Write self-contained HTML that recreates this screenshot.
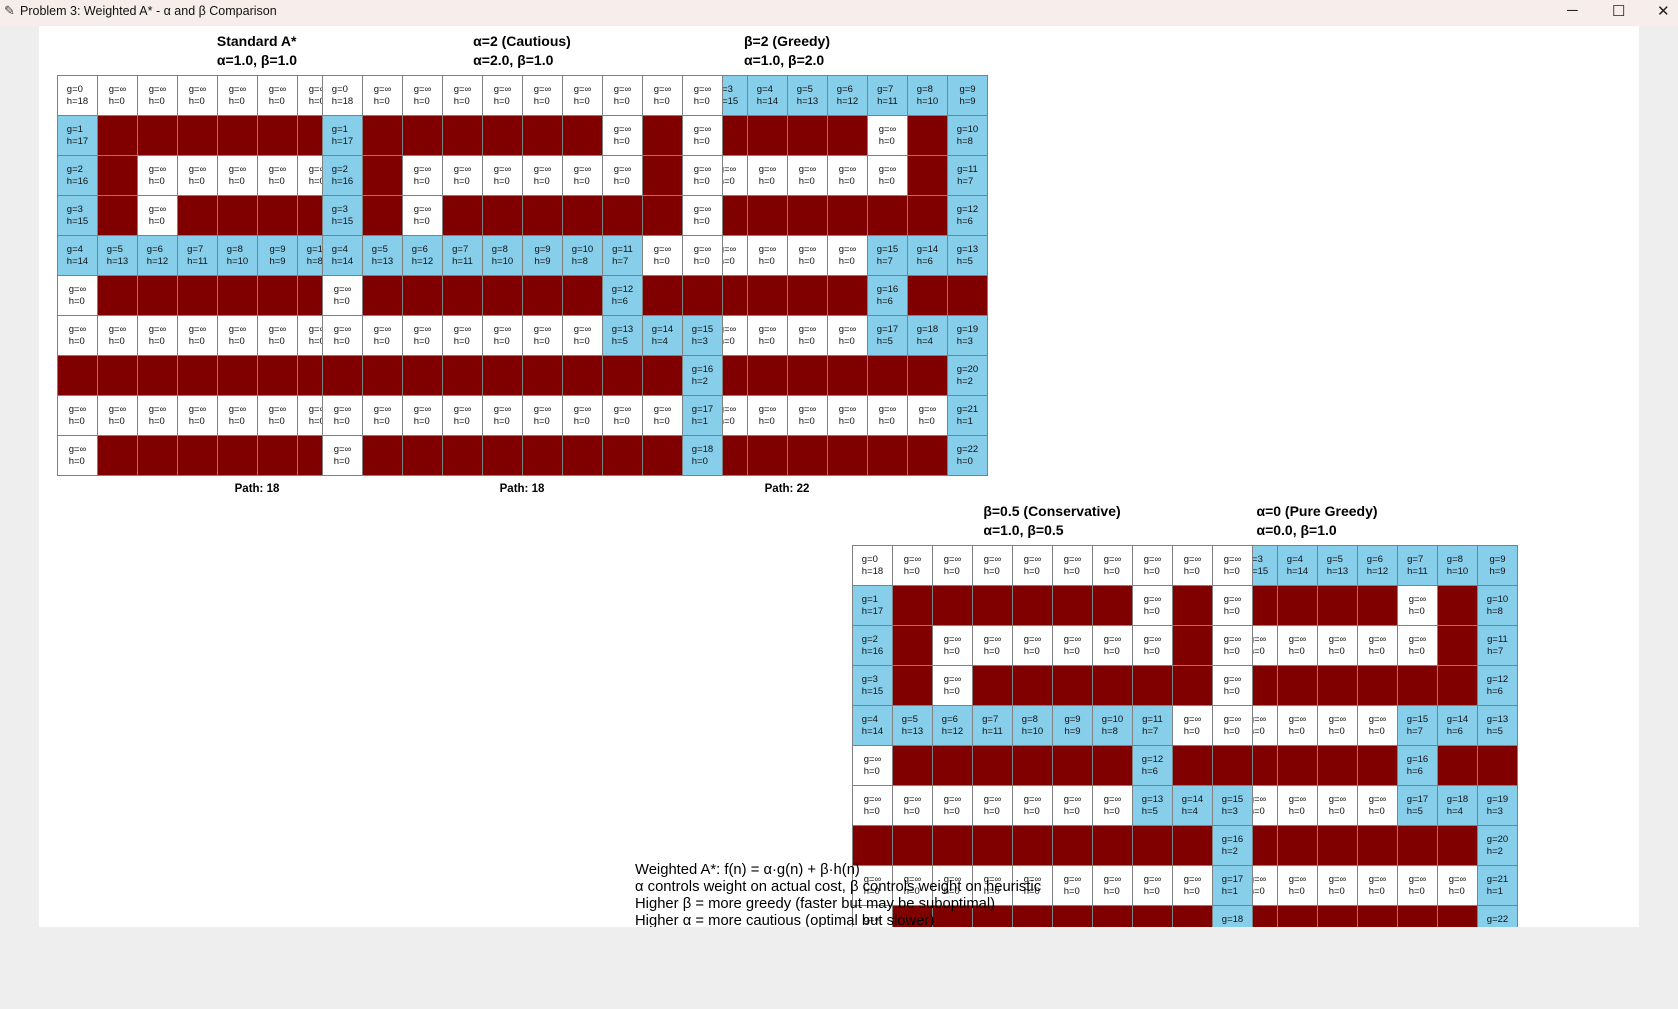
<!DOCTYPE html>
<html><head><meta charset="utf-8"><style>
body{margin:0;width:1678px;height:1009px;background:#eeeeee;position:relative;overflow:hidden;font-family:"Liberation Sans",sans-serif}
#tb{position:absolute;left:0;top:0;width:1678px;height:26px;background:#f7eeec;font-size:12.5px;color:#111}
#tb .t{position:absolute;left:20px;top:4px}
#tb .ic{position:absolute;left:4px;top:3px;font-size:13px;color:#444}
#tb .c{position:absolute;top:2px;font-size:15px;color:#222}
#cv{position:absolute;left:39px;top:26px;width:1600px;height:901px;background:#fff;overflow:hidden}
.g{position:absolute;display:grid;grid-template-columns:repeat(10,39px);grid-auto-rows:39px;gap:1px;padding:1px;background:#808080}
.g div{background:#fff;display:flex;align-items:center;justify-content:center;text-align:left;font-size:9.5px;line-height:11.5px;color:#111;overflow:hidden;white-space:nowrap}
.g div.w{background:#800000}
.g div.p{background:#87ceeb}
.ti{position:absolute;transform:translateX(-50%);font-weight:bold;font-size:14px;line-height:18.5px;text-align:left;white-space:nowrap;color:#000}
.pl{position:absolute;transform:translateX(-50%);font-weight:bold;font-size:11.5px;white-space:nowrap}
#tx{position:absolute;left:596px;top:836px;font-size:14.8px;line-height:17.1px;white-space:nowrap;color:#000}
</style></head><body>
<div id="tb"><span class="ic">✎</span><span class="t">Problem 3: Weighted A* - α and β Comparison</span><span class="c" style="left:1567px">─</span><span class="c" style="left:1612px">☐</span><span class="c" style="left:1657px">✕</span></div>
<div id="cv">
<div class="ti" style="left:218px;top:6px">Standard A*<br>α=1.0, β=1.0</div>
<div class="ti" style="left:483px;top:6px">α=2 (Cautious)<br>α=2.0, β=1.0</div>
<div class="ti" style="left:748px;top:6px">β=2 (Greedy)<br>α=1.0, β=2.0</div>
<div class="pl" style="left:218px;top:457px">Path: 18</div>
<div class="pl" style="left:483px;top:457px">Path: 18</div>
<div class="pl" style="left:748px;top:457px">Path: 22</div>
<div class="ti" style="left:1013px;top:476px">β=0.5 (Conservative)<br>α=1.0, β=0.5</div>
<div class="ti" style="left:1278px;top:476px">α=0 (Pure Greedy)<br>α=0.0, β=1.0</div>

<!-- Grid 1: Standard A* -->
<div class="g" style="left:18px;top:49px">
<div>g=0<br>h=18</div><div>g=∞<br>h=0</div><div>g=∞<br>h=0</div><div>g=∞<br>h=0</div><div>g=∞<br>h=0</div><div>g=∞<br>h=0</div><div>g=∞<br>h=0</div><div>g=∞<br>h=0</div><div>g=∞<br>h=0</div><div>g=∞<br>h=0</div>
<div class="p">g=1<br>h=17</div><div class="w"></div><div class="w"></div><div class="w"></div><div class="w"></div><div class="w"></div><div class="w"></div><div>g=∞<br>h=0</div><div class="w"></div><div>g=∞<br>h=0</div>
<div class="p">g=2<br>h=16</div><div class="w"></div><div>g=∞<br>h=0</div><div>g=∞<br>h=0</div><div>g=∞<br>h=0</div><div>g=∞<br>h=0</div><div>g=∞<br>h=0</div><div>g=∞<br>h=0</div><div class="w"></div><div>g=∞<br>h=0</div>
<div class="p">g=3<br>h=15</div><div class="w"></div><div>g=∞<br>h=0</div><div class="w"></div><div class="w"></div><div class="w"></div><div class="w"></div><div class="w"></div><div class="w"></div><div>g=∞<br>h=0</div>
<div class="p">g=4<br>h=14</div><div class="p">g=5<br>h=13</div><div class="p">g=6<br>h=12</div><div class="p">g=7<br>h=11</div><div class="p">g=8<br>h=10</div><div class="p">g=9<br>h=9</div><div class="p">g=10<br>h=8</div><div class="p">g=11<br>h=7</div><div>g=∞<br>h=0</div><div>g=∞<br>h=0</div>
<div>g=∞<br>h=0</div><div class="w"></div><div class="w"></div><div class="w"></div><div class="w"></div><div class="w"></div><div class="w"></div><div class="p">g=12<br>h=6</div><div class="w"></div><div class="w"></div>
<div>g=∞<br>h=0</div><div>g=∞<br>h=0</div><div>g=∞<br>h=0</div><div>g=∞<br>h=0</div><div>g=∞<br>h=0</div><div>g=∞<br>h=0</div><div>g=∞<br>h=0</div><div class="p">g=13<br>h=5</div><div class="p">g=14<br>h=4</div><div class="p">g=15<br>h=3</div>
<div class="w"></div><div class="w"></div><div class="w"></div><div class="w"></div><div class="w"></div><div class="w"></div><div class="w"></div><div class="w"></div><div class="w"></div><div class="p">g=16<br>h=2</div>
<div>g=∞<br>h=0</div><div>g=∞<br>h=0</div><div>g=∞<br>h=0</div><div>g=∞<br>h=0</div><div>g=∞<br>h=0</div><div>g=∞<br>h=0</div><div>g=∞<br>h=0</div><div>g=∞<br>h=0</div><div>g=∞<br>h=0</div><div class="p">g=17<br>h=1</div>
<div>g=∞<br>h=0</div><div class="w"></div><div class="w"></div><div class="w"></div><div class="w"></div><div class="w"></div><div class="w"></div><div class="w"></div><div class="w"></div><div class="p">g=18<br>h=0</div>
</div>

<!-- Grid 3: beta=2 greedy -->
<div class="g" style="left:548px;top:49px">
<div>g=0<br>h=18</div><div class="p">g=1<br>h=17</div><div class="p">g=2<br>h=16</div><div class="p">g=3<br>h=15</div><div class="p">g=4<br>h=14</div><div class="p">g=5<br>h=13</div><div class="p">g=6<br>h=12</div><div class="p">g=7<br>h=11</div><div class="p">g=8<br>h=10</div><div class="p">g=9<br>h=9</div>
<div>g=∞<br>h=0</div><div class="w"></div><div class="w"></div><div class="w"></div><div class="w"></div><div class="w"></div><div class="w"></div><div>g=∞<br>h=0</div><div class="w"></div><div class="p">g=10<br>h=8</div>
<div>g=∞<br>h=0</div><div class="w"></div><div>g=∞<br>h=0</div><div>g=∞<br>h=0</div><div>g=∞<br>h=0</div><div>g=∞<br>h=0</div><div>g=∞<br>h=0</div><div>g=∞<br>h=0</div><div class="w"></div><div class="p">g=11<br>h=7</div>
<div>g=∞<br>h=0</div><div class="w"></div><div>g=∞<br>h=0</div><div class="w"></div><div class="w"></div><div class="w"></div><div class="w"></div><div class="w"></div><div class="w"></div><div class="p">g=12<br>h=6</div>
<div>g=∞<br>h=0</div><div>g=∞<br>h=0</div><div>g=∞<br>h=0</div><div>g=∞<br>h=0</div><div>g=∞<br>h=0</div><div>g=∞<br>h=0</div><div>g=∞<br>h=0</div><div class="p">g=15<br>h=7</div><div class="p">g=14<br>h=6</div><div class="p">g=13<br>h=5</div>
<div>g=∞<br>h=0</div><div class="w"></div><div class="w"></div><div class="w"></div><div class="w"></div><div class="w"></div><div class="w"></div><div class="p">g=16<br>h=6</div><div class="w"></div><div class="w"></div>
<div>g=∞<br>h=0</div><div>g=∞<br>h=0</div><div>g=∞<br>h=0</div><div>g=∞<br>h=0</div><div>g=∞<br>h=0</div><div>g=∞<br>h=0</div><div>g=∞<br>h=0</div><div class="p">g=17<br>h=5</div><div class="p">g=18<br>h=4</div><div class="p">g=19<br>h=3</div>
<div class="w"></div><div class="w"></div><div class="w"></div><div class="w"></div><div class="w"></div><div class="w"></div><div class="w"></div><div class="w"></div><div class="w"></div><div class="p">g=20<br>h=2</div>
<div>g=∞<br>h=0</div><div>g=∞<br>h=0</div><div>g=∞<br>h=0</div><div>g=∞<br>h=0</div><div>g=∞<br>h=0</div><div>g=∞<br>h=0</div><div>g=∞<br>h=0</div><div>g=∞<br>h=0</div><div>g=∞<br>h=0</div><div class="p">g=21<br>h=1</div>
<div>g=∞<br>h=0</div><div class="w"></div><div class="w"></div><div class="w"></div><div class="w"></div><div class="w"></div><div class="w"></div><div class="w"></div><div class="w"></div><div class="p">g=22<br>h=0</div>
</div>

<!-- Grid 2: alpha=2 -->
<div class="g" style="left:283px;top:49px">
<div>g=0<br>h=18</div><div>g=∞<br>h=0</div><div>g=∞<br>h=0</div><div>g=∞<br>h=0</div><div>g=∞<br>h=0</div><div>g=∞<br>h=0</div><div>g=∞<br>h=0</div><div>g=∞<br>h=0</div><div>g=∞<br>h=0</div><div>g=∞<br>h=0</div>
<div class="p">g=1<br>h=17</div><div class="w"></div><div class="w"></div><div class="w"></div><div class="w"></div><div class="w"></div><div class="w"></div><div>g=∞<br>h=0</div><div class="w"></div><div>g=∞<br>h=0</div>
<div class="p">g=2<br>h=16</div><div class="w"></div><div>g=∞<br>h=0</div><div>g=∞<br>h=0</div><div>g=∞<br>h=0</div><div>g=∞<br>h=0</div><div>g=∞<br>h=0</div><div>g=∞<br>h=0</div><div class="w"></div><div>g=∞<br>h=0</div>
<div class="p">g=3<br>h=15</div><div class="w"></div><div>g=∞<br>h=0</div><div class="w"></div><div class="w"></div><div class="w"></div><div class="w"></div><div class="w"></div><div class="w"></div><div>g=∞<br>h=0</div>
<div class="p">g=4<br>h=14</div><div class="p">g=5<br>h=13</div><div class="p">g=6<br>h=12</div><div class="p">g=7<br>h=11</div><div class="p">g=8<br>h=10</div><div class="p">g=9<br>h=9</div><div class="p">g=10<br>h=8</div><div class="p">g=11<br>h=7</div><div>g=∞<br>h=0</div><div>g=∞<br>h=0</div>
<div>g=∞<br>h=0</div><div class="w"></div><div class="w"></div><div class="w"></div><div class="w"></div><div class="w"></div><div class="w"></div><div class="p">g=12<br>h=6</div><div class="w"></div><div class="w"></div>
<div>g=∞<br>h=0</div><div>g=∞<br>h=0</div><div>g=∞<br>h=0</div><div>g=∞<br>h=0</div><div>g=∞<br>h=0</div><div>g=∞<br>h=0</div><div>g=∞<br>h=0</div><div class="p">g=13<br>h=5</div><div class="p">g=14<br>h=4</div><div class="p">g=15<br>h=3</div>
<div class="w"></div><div class="w"></div><div class="w"></div><div class="w"></div><div class="w"></div><div class="w"></div><div class="w"></div><div class="w"></div><div class="w"></div><div class="p">g=16<br>h=2</div>
<div>g=∞<br>h=0</div><div>g=∞<br>h=0</div><div>g=∞<br>h=0</div><div>g=∞<br>h=0</div><div>g=∞<br>h=0</div><div>g=∞<br>h=0</div><div>g=∞<br>h=0</div><div>g=∞<br>h=0</div><div>g=∞<br>h=0</div><div class="p">g=17<br>h=1</div>
<div>g=∞<br>h=0</div><div class="w"></div><div class="w"></div><div class="w"></div><div class="w"></div><div class="w"></div><div class="w"></div><div class="w"></div><div class="w"></div><div class="p">g=18<br>h=0</div>
</div>

<!-- Grid 5: pure greedy -->
<div class="g" style="left:1078px;top:519px">
<div>g=0<br>h=18</div><div class="p">g=1<br>h=17</div><div class="p">g=2<br>h=16</div><div class="p">g=3<br>h=15</div><div class="p">g=4<br>h=14</div><div class="p">g=5<br>h=13</div><div class="p">g=6<br>h=12</div><div class="p">g=7<br>h=11</div><div class="p">g=8<br>h=10</div><div class="p">g=9<br>h=9</div>
<div>g=∞<br>h=0</div><div class="w"></div><div class="w"></div><div class="w"></div><div class="w"></div><div class="w"></div><div class="w"></div><div>g=∞<br>h=0</div><div class="w"></div><div class="p">g=10<br>h=8</div>
<div>g=∞<br>h=0</div><div class="w"></div><div>g=∞<br>h=0</div><div>g=∞<br>h=0</div><div>g=∞<br>h=0</div><div>g=∞<br>h=0</div><div>g=∞<br>h=0</div><div>g=∞<br>h=0</div><div class="w"></div><div class="p">g=11<br>h=7</div>
<div>g=∞<br>h=0</div><div class="w"></div><div>g=∞<br>h=0</div><div class="w"></div><div class="w"></div><div class="w"></div><div class="w"></div><div class="w"></div><div class="w"></div><div class="p">g=12<br>h=6</div>
<div>g=∞<br>h=0</div><div>g=∞<br>h=0</div><div>g=∞<br>h=0</div><div>g=∞<br>h=0</div><div>g=∞<br>h=0</div><div>g=∞<br>h=0</div><div>g=∞<br>h=0</div><div class="p">g=15<br>h=7</div><div class="p">g=14<br>h=6</div><div class="p">g=13<br>h=5</div>
<div>g=∞<br>h=0</div><div class="w"></div><div class="w"></div><div class="w"></div><div class="w"></div><div class="w"></div><div class="w"></div><div class="p">g=16<br>h=6</div><div class="w"></div><div class="w"></div>
<div>g=∞<br>h=0</div><div>g=∞<br>h=0</div><div>g=∞<br>h=0</div><div>g=∞<br>h=0</div><div>g=∞<br>h=0</div><div>g=∞<br>h=0</div><div>g=∞<br>h=0</div><div class="p">g=17<br>h=5</div><div class="p">g=18<br>h=4</div><div class="p">g=19<br>h=3</div>
<div class="w"></div><div class="w"></div><div class="w"></div><div class="w"></div><div class="w"></div><div class="w"></div><div class="w"></div><div class="w"></div><div class="w"></div><div class="p">g=20<br>h=2</div>
<div>g=∞<br>h=0</div><div>g=∞<br>h=0</div><div>g=∞<br>h=0</div><div>g=∞<br>h=0</div><div>g=∞<br>h=0</div><div>g=∞<br>h=0</div><div>g=∞<br>h=0</div><div>g=∞<br>h=0</div><div>g=∞<br>h=0</div><div class="p">g=21<br>h=1</div>
<div>g=∞<br>h=0</div><div class="w"></div><div class="w"></div><div class="w"></div><div class="w"></div><div class="w"></div><div class="w"></div><div class="w"></div><div class="w"></div><div class="p">g=22<br>h=0</div>
</div>

<!-- Grid 4: beta=0.5 -->
<div class="g" style="left:813px;top:519px">
<div>g=0<br>h=18</div><div>g=∞<br>h=0</div><div>g=∞<br>h=0</div><div>g=∞<br>h=0</div><div>g=∞<br>h=0</div><div>g=∞<br>h=0</div><div>g=∞<br>h=0</div><div>g=∞<br>h=0</div><div>g=∞<br>h=0</div><div>g=∞<br>h=0</div>
<div class="p">g=1<br>h=17</div><div class="w"></div><div class="w"></div><div class="w"></div><div class="w"></div><div class="w"></div><div class="w"></div><div>g=∞<br>h=0</div><div class="w"></div><div>g=∞<br>h=0</div>
<div class="p">g=2<br>h=16</div><div class="w"></div><div>g=∞<br>h=0</div><div>g=∞<br>h=0</div><div>g=∞<br>h=0</div><div>g=∞<br>h=0</div><div>g=∞<br>h=0</div><div>g=∞<br>h=0</div><div class="w"></div><div>g=∞<br>h=0</div>
<div class="p">g=3<br>h=15</div><div class="w"></div><div>g=∞<br>h=0</div><div class="w"></div><div class="w"></div><div class="w"></div><div class="w"></div><div class="w"></div><div class="w"></div><div>g=∞<br>h=0</div>
<div class="p">g=4<br>h=14</div><div class="p">g=5<br>h=13</div><div class="p">g=6<br>h=12</div><div class="p">g=7<br>h=11</div><div class="p">g=8<br>h=10</div><div class="p">g=9<br>h=9</div><div class="p">g=10<br>h=8</div><div class="p">g=11<br>h=7</div><div>g=∞<br>h=0</div><div>g=∞<br>h=0</div>
<div>g=∞<br>h=0</div><div class="w"></div><div class="w"></div><div class="w"></div><div class="w"></div><div class="w"></div><div class="w"></div><div class="p">g=12<br>h=6</div><div class="w"></div><div class="w"></div>
<div>g=∞<br>h=0</div><div>g=∞<br>h=0</div><div>g=∞<br>h=0</div><div>g=∞<br>h=0</div><div>g=∞<br>h=0</div><div>g=∞<br>h=0</div><div>g=∞<br>h=0</div><div class="p">g=13<br>h=5</div><div class="p">g=14<br>h=4</div><div class="p">g=15<br>h=3</div>
<div class="w"></div><div class="w"></div><div class="w"></div><div class="w"></div><div class="w"></div><div class="w"></div><div class="w"></div><div class="w"></div><div class="w"></div><div class="p">g=16<br>h=2</div>
<div>g=∞<br>h=0</div><div>g=∞<br>h=0</div><div>g=∞<br>h=0</div><div>g=∞<br>h=0</div><div>g=∞<br>h=0</div><div>g=∞<br>h=0</div><div>g=∞<br>h=0</div><div>g=∞<br>h=0</div><div>g=∞<br>h=0</div><div class="p">g=17<br>h=1</div>
<div>g=∞<br>h=0</div><div class="w"></div><div class="w"></div><div class="w"></div><div class="w"></div><div class="w"></div><div class="w"></div><div class="w"></div><div class="w"></div><div class="p">g=18<br>h=0</div>
</div>

<div id="tx">Weighted A*: f(n) = α·g(n) + β·h(n)<br>α controls weight on actual cost, β controls weight on heuristic<br>Higher β = more greedy (faster but may be suboptimal)<br>Higher α = more cautious (optimal but slower)</div>
</div>
</body></html>
